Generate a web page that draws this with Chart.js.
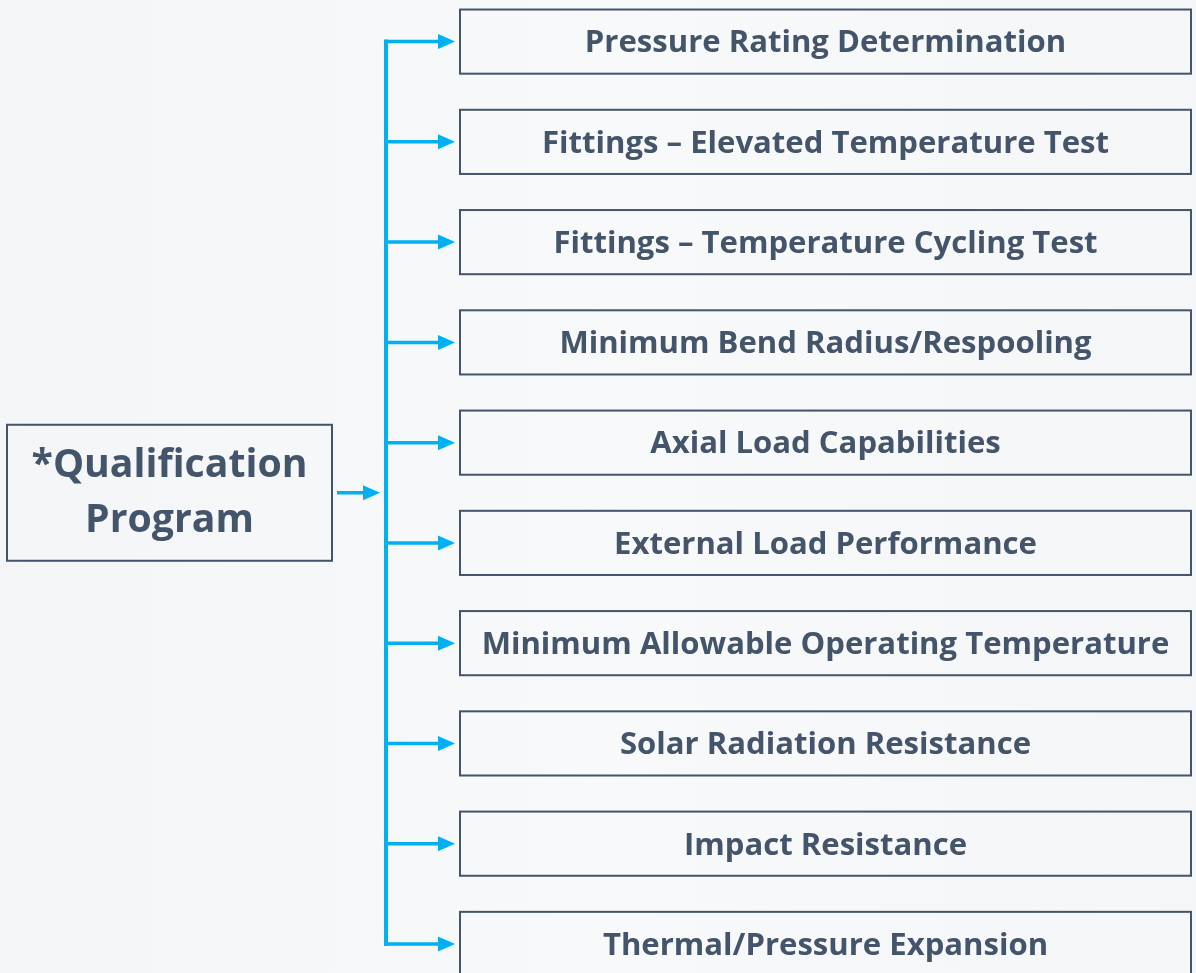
<!DOCTYPE html>
<html lang="en">
<head>
  <meta charset="UTF-8" />
  <title>Qualification Program</title>
  <script src="https://cdn.jsdelivr.net/npm/chart.js"></script>
  <style>
    * { margin: 0; padding: 0; box-sizing: border-box; }
    body { background: #f6f7f9; overflow: hidden; }
    .wrap { width: 1196px; height: 973px; position: relative; }
  </style>
</head>
<body>
  <div class="wrap"><canvas id="flow"></canvas></div>

  <script>
    // Diagram content
    const rootLines = ['*Qualification', 'Program'];
    const tests = [
      'Pressure Rating Determination',
      'Fittings \u2013 Elevated Temperature Test',
      'Fittings \u2013 Temperature Cycling Test',
      'Minimum Bend Radius/Respooling',
      'Axial Load Capabilities',
      'External Load Performance',
      'Minimum Allowable Operating Temperature',
      'Solar Radiation Resistance',
      'Impact Resistance',
      'Thermal/Pressure Expansion'
    ];
    const rowIndex = tests.map((t, i) => i);

    const blue = '#00B0F0';
    const slate = '#44546A';
    const fontFamily = '"Open Sans", Lato, sans-serif';

    function arrowHead(ctx, tipX, y) {
      ctx.beginPath();
      ctx.moveTo(tipX, y);
      ctx.lineTo(tipX - 17, y - 7.5);
      ctx.lineTo(tipX - 17, y + 7.5);
      ctx.closePath();
      ctx.fill();
    }

    function fitFont(ctx, text, targetW) {
      ctx.font = 'bold 30px ' + fontFamily;
      return 30 * targetW / ctx.measureText(text).width;
    }

    const diagram = {
      id: 'diagram',
      beforeDraw(chart) {
        const ctx = chart.ctx;
        ctx.save();
        const g = ctx.createLinearGradient(0, 0, chart.width, 0);
        g.addColorStop(0, '#f4f5f7');
        g.addColorStop(0.5, '#f8f9fa');
        g.addColorStop(1, '#f5f6f8');
        ctx.fillStyle = g;
        ctx.fillRect(0, 0, chart.width, chart.height);
        ctx.restore();
      },
      afterDraw(chart) {
        const ctx = chart.ctx;
        const xs = chart.scales.x, ys = chart.scales.y;
        const trunkX = xs.getPixelForValue(386);
        const boxL = xs.getPixelForValue(460), boxR = xs.getPixelForValue(1191);
        const rowH = Math.abs(ys.getPixelForValue(1) - ys.getPixelForValue(0));
        const boxH = rowH * 0.64;

        ctx.save();
        // trunk
        const yTop = ys.getPixelForValue(rowIndex[0]);
        const yBot = ys.getPixelForValue(rowIndex[rowIndex.length - 1]);
        ctx.strokeStyle = blue;
        ctx.fillStyle = blue;
        ctx.lineWidth = 4;
        ctx.beginPath();
        ctx.moveTo(trunkX, yTop - 2);
        ctx.lineTo(trunkX, yBot + 2);
        ctx.stroke();

        // branches + boxes
        ctx.font = 'bold 30px ' + fontFamily;
        const longest = tests.reduce((a, b) => ctx.measureText(a).width > ctx.measureText(b).width ? a : b);
        const labelSize = fitFont(ctx, longest, 688);
        rowIndex.forEach(i => {
          const y = ys.getPixelForValue(i);
          ctx.strokeStyle = blue;
          ctx.lineWidth = 3.5;
          ctx.beginPath();
          ctx.moveTo(trunkX, y);
          ctx.lineTo(boxL - 20, y);
          ctx.stroke();
          arrowHead(ctx, boxL - 5, y);

          ctx.strokeStyle = slate;
          ctx.lineWidth = 2;
          ctx.strokeRect(boxL, y - boxH / 2, boxR - boxL, boxH);

          ctx.fillStyle = slate;
          ctx.font = 'bold ' + labelSize + 'px ' + fontFamily;
          ctx.textAlign = 'center';
          ctx.textBaseline = 'middle';
          ctx.fillText(tests[i], (boxL + boxR) / 2, y + 2);
          ctx.fillStyle = blue;
        });

        // root box
        const midVal = (rowIndex[0] + rowIndex[rowIndex.length - 1]) / 2;
        const yMid = ys.getPixelForValue(midVal);
        const rL = xs.getPixelForValue(7), rR = xs.getPixelForValue(332);
        ctx.strokeStyle = slate;
        ctx.lineWidth = 2;
        ctx.strokeRect(rL, yMid - 68, rR - rL, 136);
        const rootSize = fitFont(ctx, rootLines[0], 276);
        ctx.fillStyle = slate;
        ctx.font = 'bold ' + rootSize + 'px ' + fontFamily;
        ctx.textAlign = 'center';
        ctx.textBaseline = 'middle';
        ctx.fillText(rootLines[0], (rL + rR) / 2, yMid - 27);
        ctx.fillText(rootLines[1], (rL + rR) / 2, yMid + 28);

        // root arrow
        ctx.strokeStyle = blue;
        ctx.fillStyle = blue;
        ctx.lineWidth = 3.5;
        ctx.beginPath();
        ctx.moveTo(xs.getPixelForValue(337), yMid);
        ctx.lineTo(xs.getPixelForValue(365), yMid);
        ctx.stroke();
        arrowHead(ctx, xs.getPixelForValue(380), yMid);
        ctx.restore();
      }
    };

    new Chart(document.getElementById('flow'), {
      type: 'scatter',
      data: { datasets: [{ data: [], showLine: false }] },
      options: {
        responsive: true,
        maintainAspectRatio: false,
        animation: false,
        layout: { padding: 0 },
        plugins: { legend: { display: false }, tooltip: { enabled: false } },
        scales: {
          x: { type: 'linear', min: 0, max: 1196, display: false },
          y: { type: 'linear', min: -0.415, max: 9.29, reverse: true, display: false }
        }
      },
      plugins: [diagram]
    });
  </script>
</body>
</html>
